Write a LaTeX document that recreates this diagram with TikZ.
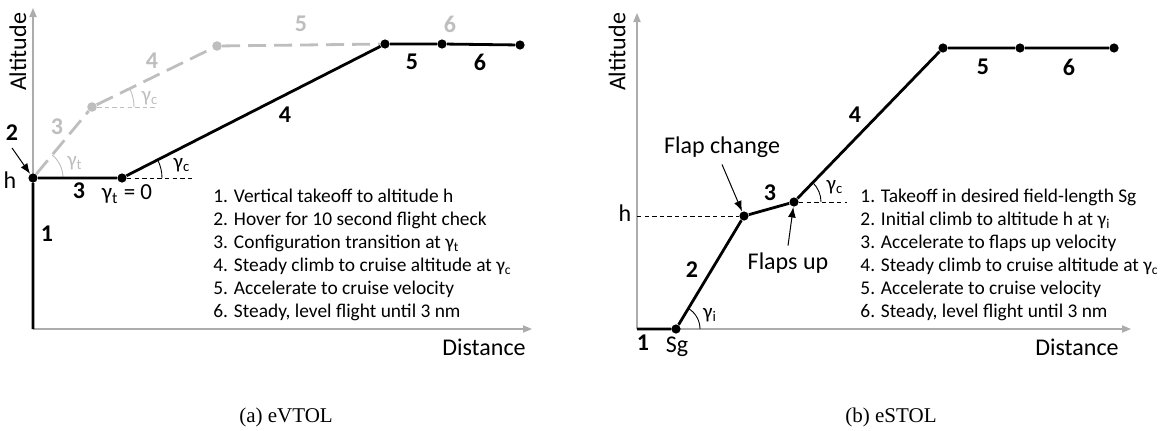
\documentclass[tikz,border=0pt]{standalone}
\usepackage{fontspec}
\setmainfont{Carlito}
\newfontfamily\captionfont{Liberation Serif}
\usetikzlibrary{
    arrows.meta,
    positioning,
    calc
}
\definecolor{AxisGray}{RGB}{172,172,172}
\definecolor{PathGray}{RGB}{190,190,190}

\begin{document}
\begin{tikzpicture}[
    x=0.5pt,
    y=0.5pt,
    >=Latex,
    dot/.style={circle, fill=black, inner sep=0pt, minimum size=4.6pt},
    graydot/.style={circle, fill=PathGray, inner sep=0pt, minimum size=4.8pt},
    axis/.style={draw=AxisGray, line width=0.7pt, -{Triangle[length=4.5pt, width=3.6pt]}},
    flight/.style={line width=1.4pt, line join=round},
    ghost/.style={draw=PathGray, line width=1.4pt, dash pattern=on 9pt off 4pt},
    guide/.style={dash pattern=on 2.2pt off 1.6pt, line width=0.45pt},
    anglearc/.style={line width=0.45pt},
    phase/.style={font=\fontsize{12}{14}\selectfont\bfseries},
    ghostphase/.style={phase, text=PathGray},
    anglelabel/.style={font=\fontsize{10.5}{12}\selectfont},
    axislabel/.style={font=\fontsize{12}{14}\selectfont},
    legend/.style={align=left, anchor=west, inner sep=0pt, font=\fontsize{9.7}{11.5}\selectfont},
    caption/.style={font=\captionfont\fontsize{10.5}{12}\selectfont}
]
\useasboundingbox (0,0) rectangle (1170,430);

% ---------- (a) eVTOL ----------
\coordinate (oL) at (33,101);
\coordinate (yL) at (33,422);
\coordinate (xL) at (532,101);
\draw[axis] (oL) -- (yL);
\draw[axis] (oL) -- (xL);
\node[axislabel, rotate=90] (altL) at (18,378) {Altitude};
\node[axislabel, anchor=east, inner sep=0pt] (distL) at (526,83) {Distance};

\node[graydot] (g1) at (92,323) {};
\node[graydot] (g2) at (217,384) {};
\node[dot] (hL) at (33,252) {};
\node[dot] (tL) at (122,252) {};
\node[dot] (cL) at (385,386) {};
\node[dot] (aL) at (442,386) {};
\node[dot] (eL) at (520,385) {};

% conventional path
\draw[ghost] (hL) -- (g1) -- (g2) -- (cL);
\coordinate (g1h) at (158,323);
\draw[guide, draw=PathGray] (g1) -- (g1h);
\draw[anglearc, draw=PathGray] ([xshift=21pt]g1.center) arc[start angle=0, end angle=26, radius=21pt];
\draw[anglearc, draw=PathGray] ([xshift=15pt]hL.center) arc[start angle=0, end angle=50, radius=15pt];
\node[anglelabel, text=PathGray] (gcg) at (150,332) {γ\textsubscript{c}};
\node[anglelabel, text=PathGray] (gtg) at (75,267) {γ\textsubscript{t}};
\node[ghostphase] (q3) at (57,303) {3};
\node[ghostphase] (q4) at (152,369) {4};
\node[ghostphase] (q5) at (301,406) {5};
\node[ghostphase] (q6) at (450,406) {6};

% eVTOL path
\draw[flight] (oL) -- (hL) -- (tL) -- (cL) -- (aL) -- (eL);
\coordinate (tLh) at (193,252);
\draw[guide] (tL) -- (tLh);
\draw[anglearc] ([xshift=20pt]tL.center) arc[start angle=0, end angle=27, radius=20pt];
\node[anglelabel] (gcL) at (182,265) {γ\textsubscript{c}};
\node[anglelabel, font=\fontsize{11.5}{13}\selectfont] (gt0) at (127,236) {γ\textsubscript{t} = 0};
\node[axislabel] (hlabL) at (10,250) {h};

\node[phase] (p1L) at (47,196) {1};
\node[phase] (p2L) at (12,297) {2};
\node[phase] (p3L) at (79,239) {3};
\node[phase] (p4L) at (285,315) {4};
\node[phase] (p5L) at (412,368) {5};
\node[phase] (p6L) at (480,368) {6};
\draw[->, line width=0.5pt] (p2L.south) -- (hL);

\node[legend] (legL) at (213,175) {%
    1. Vertical takeoff to altitude h\\
    2. Hover for 10 second flight check\\
    3. Configuration transition at γ\textsubscript{t}\\
    4. Steady climb to cruise altitude at γ\textsubscript{c}\\
    5. Accelerate to cruise velocity\\
    6. Steady, level flight until 3 nm};

\node[caption] (capA) at (286,13) {(a) eVTOL};

% ---------- (b) eSTOL ----------
\coordinate (oR) at (637,101);
\coordinate (yR) at (637,417);
\coordinate (xR) at (1131,101);
\draw[axis] (oR) -- (yR);
\draw[axis] (oR) -- (xR);
\node[axislabel, rotate=90] (altR) at (617,378) {Altitude};
\node[axislabel, anchor=east, inner sep=0pt] (distR) at (1119,83) {Distance};

\node[dot] (sg) at (676,101) {};
\node[dot] (hR) at (744,214) {};
\node[dot] (fR) at (794,228) {};
\node[dot] (cR) at (943,382) {};
\node[dot] (aR) at (1020,382) {};
\node[dot] (eR) at (1114,382) {};

\draw[flight] (oR) -- (sg) -- (hR) -- (fR) -- (cR) -- (aR) -- (eR);
\draw[guide] (oR |- hR) -- (hR);
\coordinate (fRh) at (847,228);
\draw[guide] (fR) -- (fRh);
\draw[anglearc] ([xshift=12pt]sg.center) arc[start angle=0, end angle=59, radius=12pt];
\draw[anglearc] ([xshift=13.5pt]fR.center) arc[start angle=0, end angle=46, radius=13.5pt];
\node[anglelabel] (giR) at (710,115) {γ\textsubscript{i}};
\node[anglelabel] (gcR) at (835,243) {γ\textsubscript{c}};
\node[axislabel] (hlabR) at (625,217) {h};
\node[axislabel] (sglab) at (677,83) {Sg};

\node[phase] (p1R) at (643,87) {1};
\node[phase] (p2R) at (692,160) {2};
\node[phase] (p3R) at (770,237) {3};
\node[phase] (p4R) at (855,315) {4};
\node[phase] (p5R) at (983,363) {5};
\node[phase] (p6R) at (1069,363) {6};

\node[axislabel] (flapchg) at (722,283) {Flap change};
\node[axislabel] (flapsup) at (788,167) {Flaps up};
\draw[->, line width=0.5pt] (flapchg.south) -- (hR);
\draw[->, line width=0.5pt] (flapsup.north) -- (fR);

\node[legend] (legR) at (860,175) {%
    1. Takeoff in desired field-length Sg\\
    2. Initial climb to altitude h at γ\textsubscript{i}\\
    3. Accelerate to flaps up velocity\\
    4. Steady climb to cruise altitude at γ\textsubscript{c}\\
    5. Accelerate to cruise velocity\\
    6. Steady, level flight until 3 nm};

\node[caption] (capB) at (891,13) {(b) eSTOL};

\end{tikzpicture}
\end{document}
